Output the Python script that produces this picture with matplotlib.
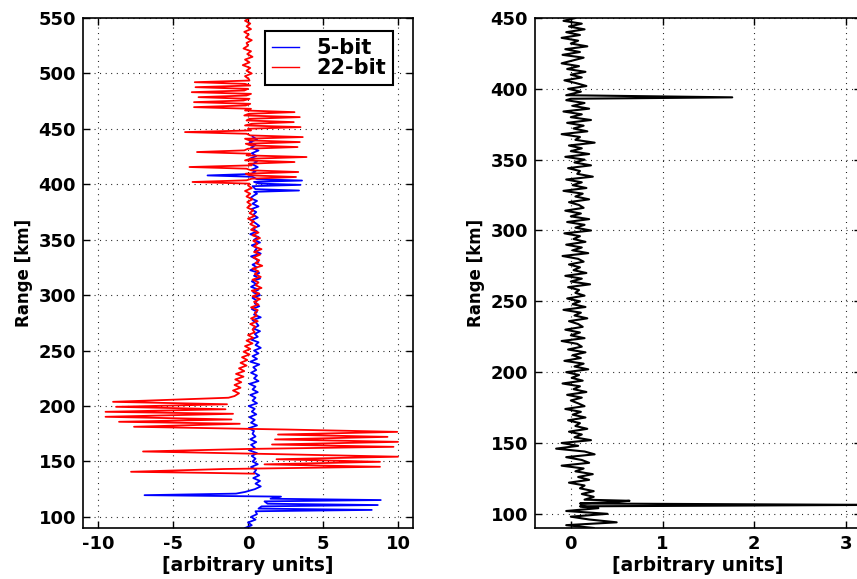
import numpy as np
import matplotlib
matplotlib.use("Agg")
import matplotlib.pyplot as plt

# ------------------------------------------------------------
# data
# ------------------------------------------------------------
# 22-bit (red), left panel
red_top_km = np.arange(550, 494, -2.5)
red_top_val = [0.1, -0.2, 0.15, -0.1, 0.2, -0.25, 0.05, -0.15, 0.25, -0.1, 0.0, -0.3,
               0.2, -0.05, 0.3, -0.2, 0.1, -0.35, 0.15, -0.1, 0.25, -0.2, 0.05]

# spiky stretch 402-492 km, one spike every third sample
red_up_km = np.arange(493.6, 400, -1.5)
red_up_val = [0.1, -3.55, -0.2, 0.15, -3.5, 0.0, -0.25, -3.75, 0.2, -0.1,
              -3.3, 0.1, -0.3, -3.6, 0.15, -0.15, -3.6, 0.2, -0.2, 3.1,
              0.05, -0.25, 3.45, 0.1, -0.1, 3.05, 0.25, -0.2, 3.5, 0.0,
              0.2, -4.2, -0.1, 0.15, 3.65, -0.2, 0.1, 3.45, -0.15, 0.2,
              3.3, 0.0, -0.25, -3.4, 0.15, -0.1, 3.9, 0.2, -0.2, 3.1,
              0.05, 0.25, -3.9, -0.1, 0.2, 3.35, -0.15, 0.1, 3.2, 0.25,
              -0.1, -3.7, 0.1]

red_mid_km = np.arange(399, 208, -2.5)
red_mid_val = [0.0, 0.25, -0.2, 0.15, -0.1, 0.3, -0.05, 0.2,
               -0.05, 0.35, 0.1, 0.45, 0.0, 0.4, 0.15, 0.55,
               0.2, 0.7, 0.3, 0.8, 0.35, 0.65, 0.4, 0.9,
               0.4, 0.8, 0.35, 0.75, 0.5, 0.95, 0.3, 0.7,
               0.45, 0.85, 0.3, 0.7, 0.5, 0.9, 0.25, 0.75,
               0.3, 0.8, 0.4, 0.7, 0.2, 0.65, 0.45, 0.6,
               0.2, 0.65, 0.15, 0.5, 0.3, 0.45, 0.0, 0.35,
               -0.1, 0.3, -0.2, 0.15, -0.3, 0.1, -0.4, -0.05,
               -0.5, -0.1, -0.6, -0.25, -0.8, -0.3, -0.85, -0.45,
               -0.9, -0.5, -1.0, -0.6, -0.9]

red_low_km = [207.5, 203.8, 201.6, 199.3, 197.1, 194.8, 193.0, 190.3, 187.9, 185.8, 184.0,
              181.3, 178.8, 176.7, 174.3, 172.2, 169.9, 167.7, 165.3, 163.2, 161.3, 159.0,
              156.6, 154.3, 152.0, 149.7, 147.4, 145.2, 143.2, 140.7, 139.8, 139.0]
red_low_val = [-1.3, -9.0, -1.4, -8.8, -1.5, -9.5, -1.0, -9.5, -1.1, -8.6, -0.55,
               -7.6, 2.6, 9.95, 2.0, 9.3, 1.8, 10.0, 1.6, 9.7, 0.0, -7.0,
               1.9, 10.0, 1.9, 8.8, 1.1, 8.8, -1.6, -7.8, -3.1, 0.4]

# 5-bit (blue), left panel
blue_top_km = np.arange(443, 412, -2.5)
blue_top_val = [0.3, 0.6, 0.1, 0.5, 0.2, 0.7, 0.25, 0.55, 0.1, 0.6, 0.3, 0.65, 0.2]

blue_up_km = [411.5, 409.3, 408.0, 406.8, 404.6, 403.4, 402.2, 400.7, 399.5, 398.3,
              395.6, 394.4, 393.2, 391.5]
blue_up_val = [0.5, 0.2, -2.7, 0.3, 0.6, 3.6, 0.4, 0.7, 3.5, 0.3,
               0.5, 3.4, 0.4, 0.6]

blue_mid_km = np.arange(390, 124, -2.5)
blue_mid_val = [0.4, 0.15, 0.6, 0.3, 0.7, 0.2, 0.55, 0.35,
                0.65, 0.2, 0.5, 0.75, 0.3, 0.6, 0.15, 0.7,
                0.4, 0.8, 0.25, 0.6, 0.45, 0.85, 0.2, 0.55,
                0.7, 0.3, 0.6, 0.15, 0.75, 0.4, 0.8, 0.25,
                0.55, 0.2, 0.7, 0.35, 0.8, 0.3, 0.6, 0.45,
                0.75, 0.25, 0.6, 0.4, 0.85, 0.3, 0.55, 0.7,
                0.35, 0.8, 0.45, 0.65, 0.2, 0.7, 0.5, 0.85,
                0.4, 0.7, 0.3, 0.6, 0.15, 0.75, 0.35, 0.55,
                0.2, 0.6, 0.4, 0.7, 0.1, 0.5, 0.3, 0.65,
                0.15, 0.5, 0.3, 0.6, 0.05, 0.45, 0.25, 0.55,
                0.1, 0.45, 0.2, 0.6, 0.05, 0.4, 0.3, 0.5,
                0.15, 0.55, 0.2, 0.45, 0.1, 0.6, 0.25, 0.5,
                0.3, 0.65, 0.2, 0.55, 0.4, 0.75, 0.35, 0.8,
                0.5, 0.85, 0.45]

blue_low_km = [122.5, 121.0, 119.6, 118.3, 116.4, 115.2, 114.0, 111.9, 110.7, 109.5,
               107.5, 106.3, 105.1]
blue_low_val = [-0.2, -0.8, -6.9, 2.2, 1.5, 8.85, 1.1, 1.3, 8.65, 0.9,
                0.7, 8.25, 0.5]

blue_bot_km = np.arange(102.5, 89, -2.5)
blue_bot_val = [0.6, 0.2, 0.5, 0.0, 0.25, -0.2]

# right panel (black)
blk_top_km = np.arange(450, 396, -2)
blk_top_val = [0.05, -0.08, 0.12, -0.02, 0.15, -0.05, 0.1, -0.1, 0.08, 0.0, 0.18, -0.06, 0.1,
               -0.09, 0.14, 0.02, -0.1, 0.09, -0.04, 0.16, 0.0, 0.12, -0.07, 0.06, 0.17, -0.03, 0.11]

blk_up_km = [395.5, 394.0, 393.0]
blk_up_val = [-0.05, 1.76, 0.0]

blk_mid_km = np.arange(392, 112, -2)
blk_mid_val = [-0.05, 0.15, 0.02, 0.2, -0.08, 0.12, 0.0, 0.22, -0.04, 0.14,
               0.03, 0.18, -0.1, 0.1, 0.05, 0.26, -0.02, 0.12, 0.0, 0.2,
               -0.06, 0.15, 0.04, 0.22, -0.03, 0.1, 0.07, 0.24, -0.05, 0.12,
               0.02, 0.17, -0.08, 0.13, 0.05, 0.2, -0.02, 0.09, 0.14, -0.06,
               0.11, 0.0, 0.2, -0.04, 0.15, 0.05, 0.22, -0.07, 0.1, 0.03,
               0.16, -0.05, 0.12, 0.02, 0.19, -0.09, 0.08, 0.14, -0.02, 0.1,
               0.03, 0.17, -0.06, 0.12, 0.0, 0.21, -0.03, 0.09, 0.05, 0.15,
               -0.04, 0.1, 0.02, 0.16, -0.08, 0.11, 0.04, 0.18, -0.02, 0.08,
               0.13, -0.06, 0.1, 0.0, 0.15, -0.1, 0.07, 0.12, -0.03, 0.16,
               0.02, 0.11, -0.07, 0.14, 0.04, 0.19, -0.05, 0.09, 0.01, 0.13,
               -0.09, 0.1, 0.03, 0.17, -0.04, 0.12, 0.0, 0.08, 0.15, -0.06,
               0.11, 0.02, 0.16, -0.03, 0.1, 0.05, 0.18, -0.02, 0.12, 0.04,
               0.22, -0.1, 0.08, -0.16, 0.15, 0.26, -0.05, 0.12, 0.2, -0.1,
               0.14, 0.05, 0.24, 0.08, 0.2, -0.02, 0.15, 0.1, 0.25, 0.12]

blk_low_km = [112.0, 110.0, 109.2, 108.3, 107.3, 106.3, 105.3]
blk_low_val = [0.25, 0.15, 0.64, 0.46, 0.1, 3.3, 0.1]

blk_bot_km = np.arange(104, 89, -2)
blk_bot_val = [0.3, -0.05, 0.4, 0.0, 0.2, 0.5, -0.05, 0.25]

left_xticks = [-10, -5, 0, 5, 10]
left_yticks = [100, 150, 200, 250, 300, 350, 400, 450, 500, 550]
right_xticks = [0, 1, 2, 3]
right_yticks = [100, 150, 200, 250, 300, 350, 400, 450]

# join the pieces of each trace
red_km = np.concatenate([red_top_km, red_up_km, red_mid_km, red_low_km])
red_val = np.concatenate([red_top_val, red_up_val, red_mid_val, red_low_val])
blue_km = np.concatenate([blue_top_km, blue_up_km, blue_mid_km, blue_low_km, blue_bot_km])
blue_val = np.concatenate([blue_top_val, blue_up_val, blue_mid_val, blue_low_val, blue_bot_val])
blk_km = np.concatenate([blk_top_km, blk_up_km, blk_mid_km, blk_low_km, blk_bot_km])
blk_val = np.concatenate([blk_top_val, blk_up_val, blk_mid_val, blk_low_val, blk_bot_val])

# ------------------------------------------------------------
# figure
# ------------------------------------------------------------
plt.rcParams['font.family'] = ['DejaVu Sans']
plt.rcParams['font.weight'] = 'bold'
plt.rcParams['axes.unicode_minus'] = False

fig = plt.figure(figsize=(8.57, 5.79), dpi=100)
ax1 = fig.add_axes([0.0969, 0.0881, 0.385, 0.8808])
ax2 = fig.add_axes([0.6243, 0.0881, 0.380, 0.8808])

ax1.plot(blue_val, blue_km, color='#0000ff', lw=1.3, label='5-bit')
ax1.plot(red_val, red_km, color='#ff0000', lw=1.3, label='22-bit')
ax1.set_xlim(-11, 11)
ax1.set_ylim(90, 550)
ax1.set_xticks(left_xticks)
ax1.set_yticks(left_yticks)

ax2.plot(blk_val, blk_km, color='k', lw=1.5)
ax2.set_xlim(-0.39, 3.16)
ax2.set_ylim(90, 450)
ax2.set_xticks(right_xticks)
ax2.set_yticks(right_yticks)

for ax in (ax1, ax2):
    ax.grid(True, color='k', linestyle=(0, (0.8, 4.2)), linewidth=0.8)
    ax.tick_params(direction='in', top=True, right=True, length=5, width=1,
                   labelsize=13, pad=5)
    for s in ax.spines.values():
        s.set_linewidth(1.2)
    ax.set_xlabel('[arbitrary units]', fontsize=13.5, fontweight='bold', labelpad=2)
    ax.set_ylabel('Range [km]', fontsize=12, fontweight='bold', labelpad=4)

leg = ax1.legend(loc='upper right', bbox_to_anchor=(0.94, 0.975), borderaxespad=0,
                 fontsize=15, handlelength=1.3, handletextpad=0.8, labelspacing=0.0,
                 fancybox=False, framealpha=1, edgecolor='k', borderpad=0.35)
leg.get_frame().set_linewidth(1.5)
for h in leg.get_lines():
    h.set_linewidth(1.0)

fig.savefig('out.png', dpi=100)
